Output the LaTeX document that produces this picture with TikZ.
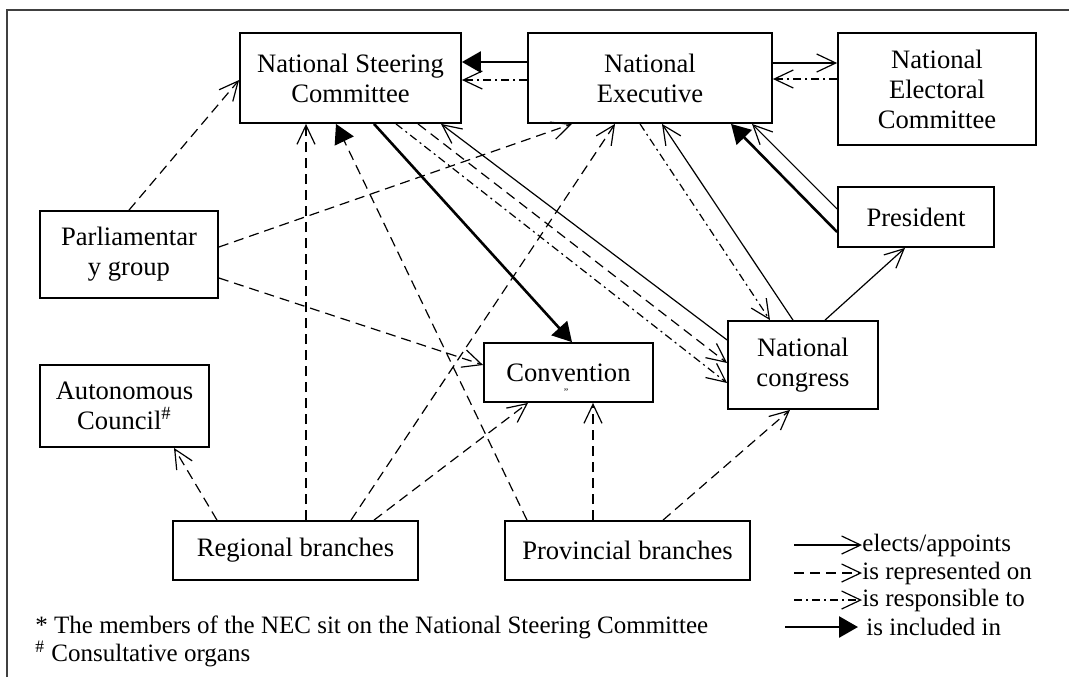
\documentclass[tikz,border=0pt]{standalone}
\usepackage{fontspec}
\setmainfont{Liberation Serif}
\usepackage{tikz}
\usetikzlibrary{arrows.meta, calc, positioning}

\begin{document}
\begin{tikzpicture}[x=0.5pt, y=-0.5pt,
		elects/.style = {line width=0.6pt, -{Straight Barb[length=9.5pt,width=9pt]}},
		represented/.style = {elects, dash pattern=on 5pt off 3pt},
		responsible/.style = {elects, dash pattern=on 4pt off 2pt on 1pt off 2pt},
		included/.style = {line width=1.3pt, -{Triangle[length=9.5pt,width=10.5pt]}}]
	\tikzset{org/.style={draw, rectangle, line width=0.9pt, inner sep=0pt, align=center, font=\fontsize{13.3pt}{15pt}\selectfont}}
	\tikzset{legend/.style={inner sep=0pt, anchor=west, font=\fontsize{12.5pt}{15pt}\selectfont}}

	\useasboundingbox (0,0) rectangle (1069,677);

	% frame
	\draw[line width=0.8pt, black!75] (7,677) -- (7,10) -- (1069,10);

	% organs
	\node[org, minimum width=110.5pt, minimum height=45pt] (nsc) at (350.5,78) {National Steering\\Committee};
	\node[org, minimum width=122pt, minimum height=45pt] (ne) at (650,78) {National\\Executive};
	\node[org, minimum width=99pt, minimum height=56pt] (nec) at (937,89) {National\\Electoral\\Committee};
	\node[org, minimum width=78pt, minimum height=30pt] (pres) at (916,217) {President};
	\node[org, minimum width=89pt, minimum height=43.5pt] (pg) at (129,254.5) {Parliamentar\\y group};
	\node[org, minimum width=84.5pt, minimum height=41pt] (ac) at (124.5,406) {Autonomous\\Council\textsuperscript{\#}};
	\node[org, minimum width=84.5pt, minimum height=29.5pt] (conv) at (568.5,372.5) {Convention};
	\node[font=\fontsize{5pt}{5pt}\selectfont, inner sep=0pt] (convmark) at (566,392) {''};
	\node[org, minimum width=75pt, minimum height=44pt] (nc) at (803,365) {National\\congress};
	\node[org, minimum width=122.5pt, minimum height=29.5pt] (rb) at (295.5,550.5) {Regional branches};
	\node[org, minimum width=122.5pt, minimum height=29.5pt] (pb) at (627.5,550.5) {Provincial branches};

	% is included in
	\draw[included] ([yshift=8pt]ne.west) -- ([yshift=8pt]nsc.east);
	\draw[included] ([xshift=11.75pt]nsc.south) -- ([xshift=1.75pt]conv.north);
	\draw[included] ([yshift=-7.5pt]pres.west) -- ([xshift=40.5pt]ne.south);
	\draw[included, line width=0.6pt, dash pattern=on 5pt off 3pt] ([xshift=-50.25pt]pb.north) -- ([xshift=-7.25pt]nsc.south);

	% elects/appoints
	\draw[elects] ([yshift=7.5pt]ne.east) -- ([yshift=13pt]nec.west);
	\draw[elects] ([yshift=12.5pt]nc.west) -- ([xshift=45.25pt]nsc.south);
	\draw[elects] ([xshift=-5pt]nc.north) -- ([xshift=6pt]ne.south);
	\draw[elects] ([yshift=4pt]pres.west) -- ([xshift=51pt]ne.south);
	\draw[elects] ([xshift=11pt]nc.north) -- ([xshift=-5.5pt]pres.south);

	% is responsible to
	\draw[responsible] ([yshift=-1pt]ne.west) -- ([yshift=-1pt]nsc.east);
	\draw[responsible] ([yshift=5pt]nec.west) -- ([yshift=-0.5pt]ne.east);
	\draw[responsible] ([xshift=22.75pt]nsc.south) -- ([yshift=-9pt]nc.west);
	\draw[responsible] ([xshift=-5pt]ne.south) -- ([xshift=-16.5pt]nc.north);

	% is represented on
	\draw[represented] (pg.north) -- ([yshift=-1pt]nsc.west);
	\draw[represented] ([yshift=3.75pt]pg.east) -- ([xshift=-39pt]ne.south);
	\draw[represented] ([yshift=-11.75pt]pg.east) -- ([yshift=3.75pt]conv.west);
	\draw[represented] ([xshift=-39.25pt]rb.north) -- ([xshift=24.75pt]ac.south);
	\draw[represented] ([xshift=5.25pt]rb.north) -- ([xshift=-22.25pt]nsc.south);
	\draw[represented] ([xshift=27.75pt]rb.north) -- ([xshift=-17.5pt]ne.south);
	\draw[represented] ([xshift=39.25pt]rb.north) -- ([xshift=-20.25pt]conv.south);
	\draw[represented] ([xshift=-17.25pt]pb.north) -- ([xshift=12.25pt]conv.south);
	\draw[represented] ([xshift=17.75pt]pb.north) -- ([xshift=-6.5pt]nc.south);
	\draw[represented] ([xshift=33.75pt]nsc.south) -- ([yshift=1pt]nc.west);

	% legend
	\node[legend] (leg1) at (862,545) {elects/appoints};
	\node[legend] (leg2) at (862,573) {is represented on};
	\node[legend] (leg3) at (862,600) {is responsible to};
	\node[legend] (leg4) at (866,627) {is included in};
	\coordinate (s1) at (794,545);
	\coordinate (s2) at (794,573);
	\coordinate (s3) at (794,600);
	\coordinate (s4) at (785,627);
	\draw[elects] (s1) -- (leg1.west);
	\draw[represented] (s2) -- (leg2.west);
	\draw[responsible] (s3) -- (leg3.west);
	\draw[included] (s4) -- ([xshift=-4pt]leg4.west);

	% notes
	\node[legend] (note1) at (35,627) {* The members of the NEC sit on the National Steering Committee};
	\node[legend] (note2) at (35,654) {\textsuperscript{\#} Consultative organs};

\end{tikzpicture}
\end{document}
